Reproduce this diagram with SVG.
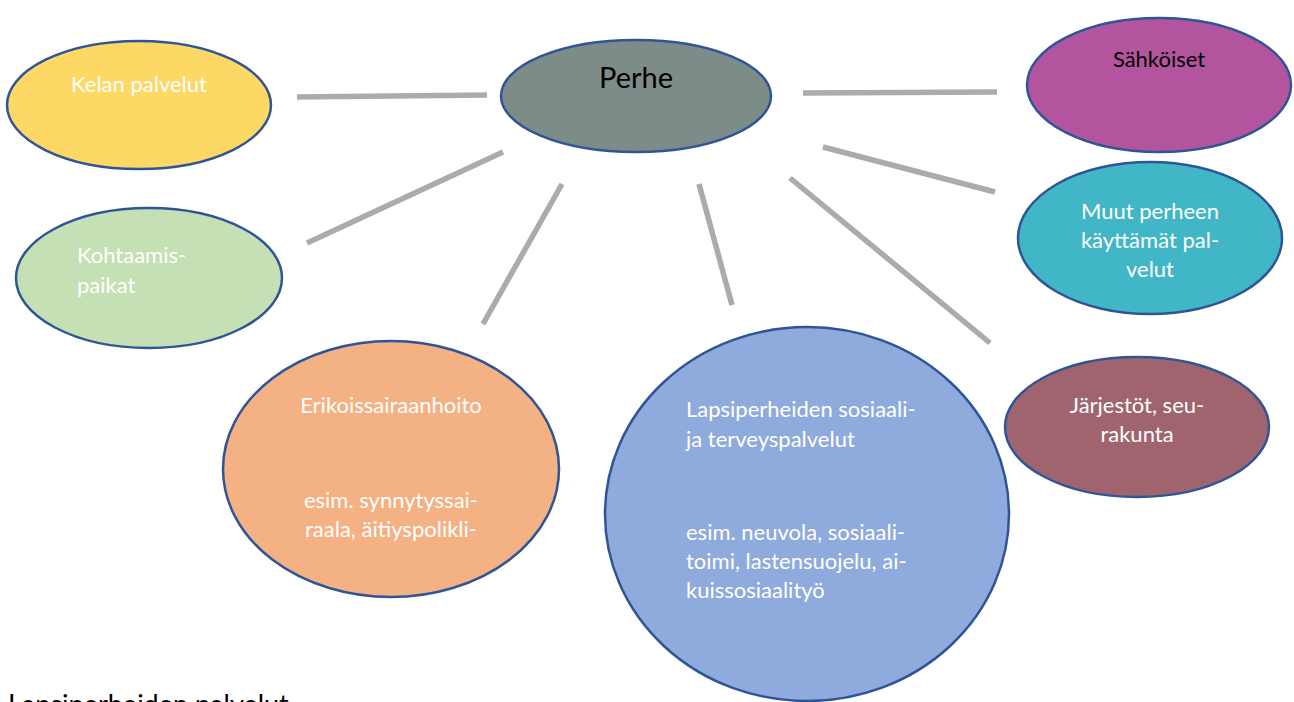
<svg xmlns="http://www.w3.org/2000/svg" width="1294" height="702" viewBox="0 0 1294 702">
<style>
.n{stroke:#2F5597;stroke-width:2.5}
.t{font-family:Lato,"Open Sans","Liberation Sans",sans-serif;font-size:22px;fill:#FFFFFF}
.b{fill:#000000}
.c{text-anchor:middle}
.e{stroke:#ABABAB;stroke-width:5.5;stroke-linecap:butt;fill:none}
</style>
<rect width="1294" height="702" fill="#FFFFFF"/>
<g id="connectors">
<line class="e" x1="297" y1="97" x2="487" y2="95"/>
<line class="e" x1="307" y1="243" x2="503" y2="152"/>
<line class="e" x1="483" y1="324" x2="562" y2="184"/>
<line class="e" x1="699" y1="184" x2="732" y2="305"/>
<line class="e" x1="790" y1="178" x2="990" y2="343"/>
<line class="e" x1="803" y1="93" x2="997" y2="92"/>
<line class="e" x1="823" y1="147" x2="995" y2="192"/>
</g>
<g id="kelan">
<ellipse class="n" cx="139" cy="105" rx="132" ry="64" fill="#FDD865"/>
<text class="t c" x="139" y="92">Kelan palvelut</text>
</g>
<g id="perhe">
<ellipse class="n" cx="636" cy="96" rx="135" ry="56" fill="#7E8C89"/>
<text class="t c b" x="636" y="88" style="font-size:29px">Perhe</text>
</g>
<g id="sahkoiset">
<ellipse class="n" cx="1159" cy="85" rx="132" ry="67" fill="#B3549E"/>
<text class="t c b" x="1159" y="67">Sähköiset</text>
</g>
<g id="muut">
<ellipse class="n" cx="1150" cy="238" rx="132" ry="76" fill="#41B6C6"/>
<text class="t c" x="1150" y="219">Muut perheen</text>
<text class="t c" x="1150" y="248">käyttämät pal-</text>
<text class="t c" x="1150" y="277">velut</text>
</g>
<g id="kohtaamis">
<ellipse class="n" cx="149" cy="278" rx="133" ry="70" fill="#C5E0B4"/>
<text class="t" x="77" y="263">Kohtaamis-</text>
<text class="t" x="77" y="293">paikat</text>
</g>
<g id="erikois">
<ellipse class="n" cx="391" cy="469" rx="168" ry="128" fill="#F4B183"/>
<text class="t c" x="391" y="413">Erikoissairaanhoito</text>
<text class="t c" x="391" y="508">esim. synnytyssai-</text>
<text class="t c" x="391" y="537">raala, äitiyspolikli-</text>
</g>
<g id="lapsi">
<ellipse class="n" cx="807" cy="514" rx="202" ry="187" fill="#8FAADC"/>
<text class="t" x="686" y="417">Lapsiperheiden sosiaali-</text>
<text class="t" x="686" y="447">ja terveyspalvelut</text>
<text class="t" x="686" y="540">esim. neuvola, sosiaali-</text>
<text class="t" x="686" y="569">toimi, lastensuojelu, ai-</text>
<text class="t" x="686" y="598">kuissosiaalityö</text>
</g>
<g id="jarjestot">
<ellipse class="n" cx="1137" cy="427" rx="132" ry="70" fill="#A0646E"/>
<text class="t c" x="1137" y="413">Järjestöt, seu-</text>
<text class="t c" x="1137" y="442">rakunta</text>
</g>
<g id="caption">
<text x="8" y="714" style="font-family:Lato,'Liberation Sans',sans-serif;font-size:27px;fill:#000000">Lapsiperheiden palvelut</text>
</g>
</svg>
